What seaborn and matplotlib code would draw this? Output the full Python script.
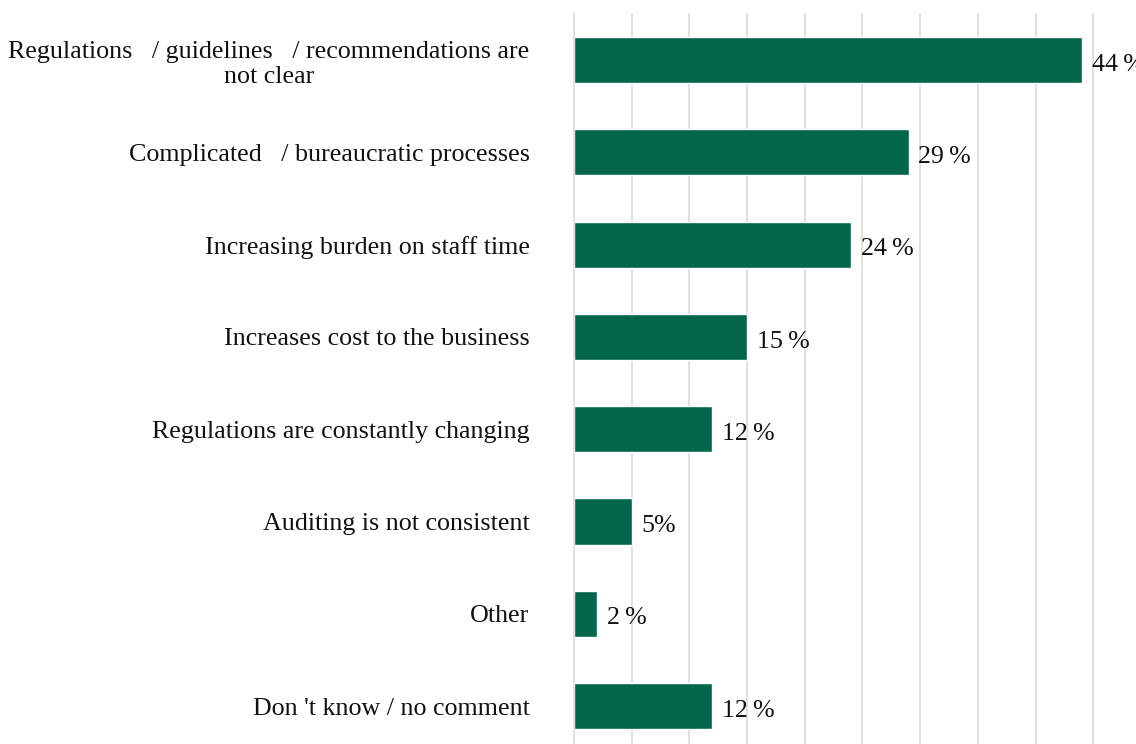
import matplotlib
matplotlib.use("Agg")
import matplotlib.pyplot as plt
import seaborn as sns
import pandas as pd

categories = [
    "Regulations   / guidelines   / recommendations are\nnot clear",
    "Complicated   / bureaucratic processes",
    "Increasing burden on staff time",
    "Increases cost to the business",
    "Regulations are constantly changing",
    "Auditing is not consistent",
    "Other",
    "Don 't know / no comment",
]
values = [44, 29, 24, 15, 12, 5, 2, 12]
value_labels = ["44\u2009%", "29\u2009%", "24\u2009%", "15\u2009%", "12\u2009%", "5%", "2\u2009%", "12\u2009%"]

df = pd.DataFrame({"category": categories, "value": values})

sns.set_theme(style="white")
plt.rcParams["font.family"] = ["Liberation Serif", "DejaVu Serif"]

fig = plt.figure(figsize=(11.36, 7.44), dpi=100)
ax = fig.add_axes([574 / 1136, 0.0, (1136 - 574) / 1136 + 0.002, 1 - 13 / 744])

sns.barplot(data=df, x="value", y="category", orient="h", color="#02674a",
            width=0.5, saturation=1, ax=ax, order=categories)

ax.set_xlim(0, 48.9)
ax.set_ylim(7.41, -0.51)
ax.set_xticks(range(0, 50, 5))
ax.grid(axis="x", color="#dcdcdc", linewidth=1.2)
ax.set_axisbelow(True)
ax.tick_params(axis="x", bottom=False, labelbottom=False)
ax.tick_params(axis="y", left=False, pad=26, labelsize=18.7)
for s in ["top", "right", "bottom"]:
    ax.spines[s].set_visible(False)
ax.spines["left"].set_color("#dcdcdc")
ax.spines["left"].set_linewidth(1.2)
ax.set_xlabel("")
ax.set_ylabel("")
for t in ax.get_yticklabels():
    t.set_multialignment("center")
    t.set_linespacing(1.2)
    t.set_color("#111111")

for i, (v, lab) in enumerate(zip(values, value_labels)):
    ax.text(v + 0.85, i + 0.05, lab, va="center", ha="left", fontsize=18.7, color="#111111")

fig.savefig("out.png", dpi=100)
